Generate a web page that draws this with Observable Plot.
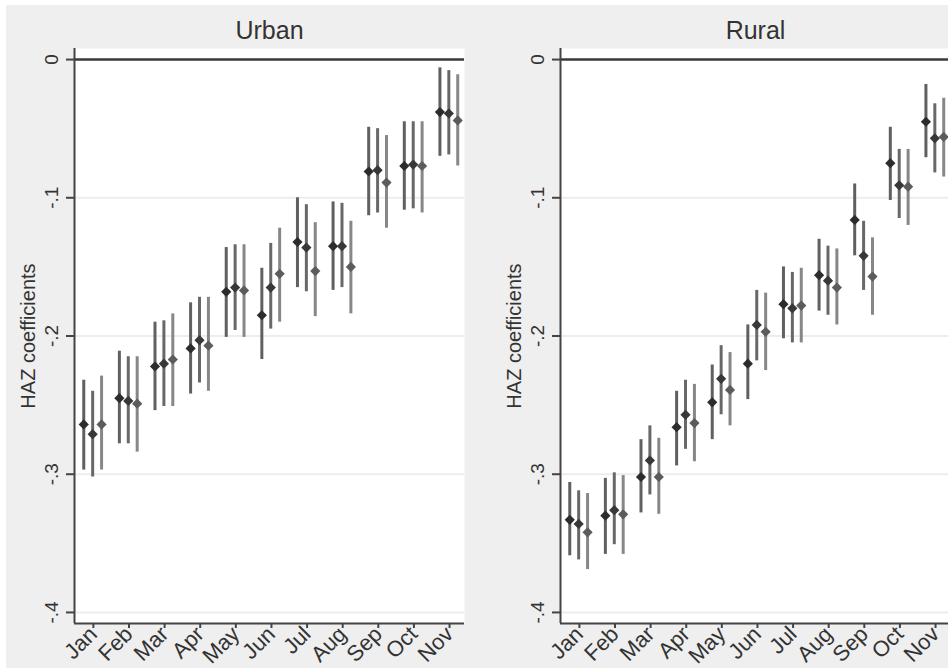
<!DOCTYPE html>
<html>
<head>
<meta charset="utf-8">
<script src="https://cdn.jsdelivr.net/npm/d3@7"></script>
<script src="https://cdn.jsdelivr.net/npm/@observablehq/plot@0.6"></script>
<style>
  html, body { margin: 0; padding: 0; background: #fff; width: 948px; height: 670px; overflow: hidden; }
  #bg { position: absolute; left: 6px; top: 5px; width: 942px; height: 663px; background: #efefef; }
  .panel { position: absolute; top: 0; width: 474px; height: 670px; }
  .panel svg { max-width: none !important; }
</style>
</head>
<body>
<div id="bg"></div>
<div id="urban" class="panel" style="left:0px"></div>
<div id="rural" class="panel" style="left:485.5px"></div>
<script>
// Month of measurement
const months = ["Jan", "Feb", "Mar", "Apr", "May", "Jun", "Jul", "Aug", "Sep", "Oct", "Nov"];

// Y axis ticks and their labels
const yTicks = [0, -0.1, -0.2, -0.3, -0.4];
const yTickLabels = ["0", "-.1", "-.2", "-.3", "-.4"];

// Urban: point estimates and 95% confidence bounds, three specifications
const urbanEst1 = [-0.264, -0.245, -0.222, -0.209, -0.168, -0.185, -0.132, -0.135, -0.081, -0.077, -0.038];
const urbanLo1  = [-0.297, -0.278, -0.254, -0.242, -0.201, -0.217, -0.165, -0.167, -0.113, -0.109, -0.070];
const urbanHi1  = [-0.232, -0.211, -0.190, -0.176, -0.136, -0.151, -0.100, -0.103, -0.049, -0.045, -0.006];

const urbanEst2 = [-0.271, -0.247, -0.220, -0.203, -0.165, -0.165, -0.136, -0.135, -0.080, -0.076, -0.039];
const urbanLo2  = [-0.302, -0.278, -0.251, -0.234, -0.196, -0.195, -0.168, -0.165, -0.111, -0.108, -0.069];
const urbanHi2  = [-0.240, -0.215, -0.189, -0.172, -0.134, -0.133, -0.105, -0.104, -0.050, -0.045, -0.008];

const urbanEst3 = [-0.264, -0.249, -0.217, -0.207, -0.167, -0.155, -0.153, -0.150, -0.089, -0.077, -0.044];
const urbanLo3  = [-0.297, -0.284, -0.251, -0.240, -0.201, -0.190, -0.186, -0.184, -0.122, -0.111, -0.077];
const urbanHi3  = [-0.229, -0.215, -0.184, -0.172, -0.134, -0.122, -0.118, -0.117, -0.055, -0.045, -0.011];

// Rural: point estimates and 95% confidence bounds, three specifications
const ruralEst1 = [-0.333, -0.330, -0.302, -0.266, -0.248, -0.220, -0.177, -0.156, -0.116, -0.075, -0.045];
const ruralLo1  = [-0.359, -0.358, -0.328, -0.294, -0.275, -0.246, -0.202, -0.182, -0.142, -0.102, -0.071];
const ruralHi1  = [-0.306, -0.303, -0.275, -0.240, -0.221, -0.192, -0.150, -0.130, -0.090, -0.049, -0.018];

const ruralEst2 = [-0.336, -0.326, -0.290, -0.257, -0.231, -0.192, -0.180, -0.160, -0.142, -0.091, -0.057];
const ruralLo2  = [-0.362, -0.351, -0.315, -0.282, -0.257, -0.218, -0.205, -0.185, -0.167, -0.115, -0.082];
const ruralHi2  = [-0.312, -0.299, -0.265, -0.232, -0.207, -0.167, -0.154, -0.135, -0.117, -0.065, -0.032];

const ruralEst3 = [-0.342, -0.329, -0.302, -0.263, -0.239, -0.197, -0.178, -0.165, -0.157, -0.092, -0.056];
const ruralLo3  = [-0.369, -0.358, -0.329, -0.291, -0.265, -0.225, -0.205, -0.192, -0.185, -0.120, -0.085];
const ruralHi3  = [-0.314, -0.301, -0.274, -0.235, -0.212, -0.169, -0.151, -0.137, -0.129, -0.065, -0.028];

// Horizontal offset of each specification within a month, and its colours
const offsets = [-0.27, -0.02, 0.23];
const markerColors = ["#2c2c2c", "#383838", "#5c5c5c"];
const barColors = ["#606060", "#686868", "#878787"];

const xDomain = [0.47, 11.42];
const yDomain = [-0.408, 0.008];
const font = "'Liberation Sans', Arial, sans-serif";

function rows(est, lo, hi, k) {
  return months.map((m, i) => ({month: m, x: i + 1 + offsets[k], est: est[i], lo: lo[i], hi: hi[i]}));
}

function panel(title, series) {
  const marks = [
    Plot.frame({fill: "white", stroke: "none"}),
    Plot.ruleY(yTicks.filter(d => d !== 0), {stroke: "#ededed", strokeWidth: 2}),
    Plot.ruleY([0], {stroke: "#3a3a3a", strokeWidth: 2.5}),
    Plot.ruleX([xDomain[0]], {stroke: "#444", strokeWidth: 2}),
    Plot.ruleY([yDomain[0]], {stroke: "#444", strokeWidth: 2}),
    Plot.axisY(yTicks, {
      tickSize: 8, tickRotate: -90, tickPadding: 9, fontSize: 19,
      tickFormat: d => yTickLabels[yTicks.indexOf(d)],
      stroke: "#444", strokeWidth: 2, fill: "#333", label: null
    }),
    Plot.axisX(d3.range(1, months.length + 1), {
      tickSize: 5, tickRotate: -45, tickPadding: 2, fontSize: 22,
      tickFormat: d => months[d - 1],
      stroke: "#444", strokeWidth: 2, fill: "#333", label: null
    }),
    Plot.text(["HAZ coefficients"], {
      frameAnchor: "left", textAnchor: "middle", lineAnchor: "middle",
      dx: -46, rotate: -90, fontSize: 20, fill: "#333"
    }),
    Plot.text([title], {
      frameAnchor: "top", lineAnchor: "middle", dy: -18, fontSize: 25, fill: "#333"
    })
  ];
  series.forEach((s, k) => {
    const data = rows(s[0], s[1], s[2], k);
    marks.push(Plot.ruleX(data, {x: "x", y1: "lo", y2: "hi", stroke: barColors[k], strokeWidth: 3}));
    marks.push(Plot.dot(data, {x: "x", y: "est", symbol: "diamond2", r: 4.6, fill: markerColors[k], stroke: "none"}));
  });
  return Plot.plot({
    width: 474,
    height: 670,
    marginLeft: 74,
    marginRight: 10,
    marginTop: 48,
    marginBottom: 47,
    style: {background: "transparent", fontFamily: font, overflow: "visible", maxWidth: "none"},
    x: {domain: xDomain, axis: null},
    y: {domain: yDomain, axis: null},
    marks
  });
}

document.getElementById("urban").appendChild(panel("Urban", [
  [urbanEst1, urbanLo1, urbanHi1],
  [urbanEst2, urbanLo2, urbanHi2],
  [urbanEst3, urbanLo3, urbanHi3]
]));
document.getElementById("rural").appendChild(panel("Rural", [
  [ruralEst1, ruralLo1, ruralHi1],
  [ruralEst2, ruralLo2, ruralHi2],
  [ruralEst3, ruralLo3, ruralHi3]
]));
</script>
</body>
</html>
